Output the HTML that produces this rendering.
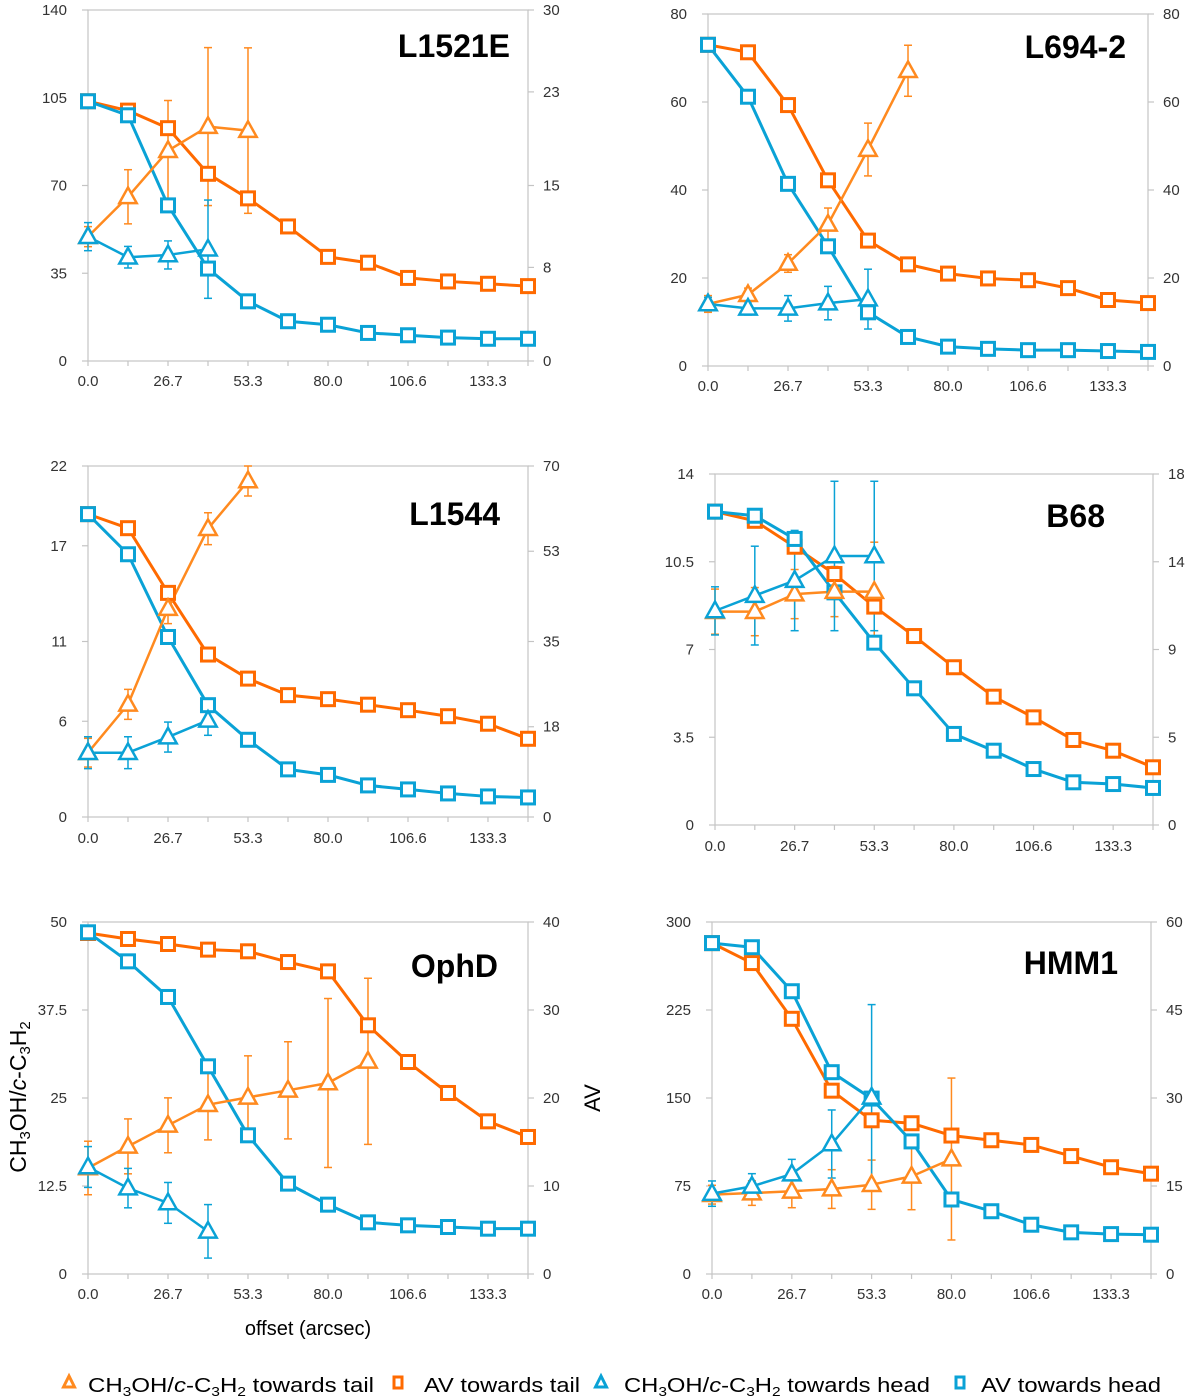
<!DOCTYPE html>
<html><head><meta charset="utf-8"><style>
html,body{margin:0;padding:0;background:#fff;}
svg{display:block;font-family:"Liberation Sans",sans-serif;}
</style></head><body>
<svg id="fig" width="1200" height="1400" viewBox="0 0 1200 1400"></svg>
<script>
// ---- data arrays (top level) ----
const offsets = [0, 13.33, 26.67, 40, 53.33, 66.67, 80, 93.33, 106.67, 120, 133.33, 146.67];
const xTickValues = [0, 26.67, 53.33, 80, 106.67, 133.33];
const xTickLabels = ["0.0", "26.7", "53.3", "80.0", "106.6", "133.3"];
const panelNames = ["L1521E", "L694-2", "L1544", "B68", "OphD", "HMM1"];

// L1521E
const l1521eLeftTicks = [0, 35, 70, 105, 140];
const l1521eRightTicks = [0, 8, 15, 23, 30];
const l1521eAvTail = [22.2, 21.4, 19.9, 16.0, 13.9, 11.5, 8.9, 8.4, 7.1, 6.8, 6.6, 6.4];
const l1521eAvHead = [22.2, 21.0, 13.3, 7.9, 5.1, 3.4, 3.1, 2.4, 2.2, 2.0, 1.9, 1.9];
const l1521eRatioTail = [49.6, 65.5, 83.9, 93.5, 91.9];
const l1521eRatioTailErr = [4, 10.8, 20, 31.5, 33];
const l1521eRatioHead = [49.6, 41.4, 42.3, 44.6];
const l1521eRatioHeadErr = [5.6, 4.3, 5.6, 19.6];

// L694-2
const l694LeftTicks = [0, 20, 40, 60, 80];
const l694RightTicks = [0, 20, 40, 60, 80];
const l694AvTail = [73.0, 71.3, 59.3, 42.2, 28.5, 23.1, 21.0, 19.9, 19.5, 17.7, 15.0, 14.3];
const l694AvHead = [73.0, 61.2, 41.4, 27.2, 12.2, 6.6, 4.4, 3.9, 3.6, 3.6, 3.4, 3.2];
const l694RatioTail = [14.1, 16.2, 23.3, 32.2, 49.2, 67.1];
const l694RatioTailErr = [1.9, 1.5, 2.0, 3.7, 6.0, 5.8];
const l694RatioHead = [14.1, 13.1, 13.1, 14.3, 15.2];
const l694RatioHeadErr = [1.5, 1.5, 2.9, 3.8, 6.8];

// L1544
const l1544LeftTicks = [0, 6, 11, 17, 22];
const l1544RightTicks = [0, 18, 35, 53, 70];
const l1544AvTail = [60.4, 57.6, 44.7, 32.4, 27.6, 24.3, 23.5, 22.4, 21.3, 20.1, 18.6, 15.6];
const l1544AvHead = [60.4, 52.4, 35.9, 22.3, 15.4, 9.5, 8.4, 6.3, 5.5, 4.7, 4.1, 3.9];
const l1544RatioTail = [4.03, 7.06, 13.06, 18.07, 21.06];
const l1544RatioTailErr = [0.9, 0.94, 0.94, 1.0, 0.94];
const l1544RatioHead = [4.03, 4.03, 5.01, 6.06];
const l1544RatioHeadErr = [1.0, 1.0, 0.94, 0.94];

// B68
const b68LeftTicks = [0, 3.5, 7, 10.5, 14];
const b68LeftLabels = ["0", "3.5", "7", "10.5", "14"];
const b68RightTicks = [0, 4.5, 9, 13.5, 18];
const b68RightLabels = ["0", "5", "9", "14", "18"];
const b68AvTail = [16.07, 15.6, 14.27, 12.87, 11.2, 9.69, 8.09, 6.58, 5.52, 4.36, 3.81, 2.96];
const b68AvHead = [16.07, 15.86, 14.67, 11.93, 9.35, 7.01, 4.67, 3.81, 2.87, 2.19, 2.10, 1.90];
const b68RatioTail = [8.51, 8.51, 9.21, 9.31, 9.31];
const b68RatioTailErr = [0.9, 0.96, 0.98, 1.0, 1.97];
const b68RatioHead = [8.54, 9.15, 9.75, 10.73, 10.73];
const b68RatioHeadErr = [0.96, 1.97, 2.0, 2.98, 2.98];

// OphD
const ophdLeftTicks = [0, 12.5, 25, 37.5, 50];
const ophdRightTicks = [0, 10, 20, 30, 40];
const ophdAvTail = [38.75, 38.07, 37.5, 36.86, 36.67, 35.45, 34.39, 28.26, 24.09, 20.57, 17.35, 15.57];
const ophdAvHead = [38.83, 35.53, 31.48, 23.6, 15.76, 10.27, 7.88, 5.87, 5.53, 5.34, 5.15, 5.15];
const ophdRatioTail = [15.06, 18.13, 21.12, 24.05, 25.09, 26.09, 27.13, 30.21];
const ophdRatioTailErr = [3.8, 3.9, 3.9, 5.0, 5.9, 6.9, 12.0, 11.8];
const ophdRatioHead = [15.2, 12.2, 10.1, 6.06];
const ophdRatioHeadErr = [2.9, 2.8, 2.9, 3.8];

// HMM1
const hmm1LeftTicks = [0, 75, 150, 225, 300];
const hmm1RightTicks = [0, 15, 30, 45, 60];
const hmm1AvTail = [56.4, 53.0, 43.5, 31.25, 26.2, 25.7, 23.6, 22.8, 22.0, 20.1, 18.2, 17.1];
const hmm1AvHead = [56.4, 55.7, 48.2, 34.4, 29.9, 22.6, 12.7, 10.7, 8.4, 7.1, 6.8, 6.7];
const hmm1RatioTail = [67.6, 69.0, 70.5, 72.4, 76.1, 83.2, 98.0];
const hmm1RatioTailErr = [8, 10.5, 14, 16.5, 21, 28.4, 69];
const hmm1RatioHead = [68.5, 74.7, 85.2, 110.8, 150.6];
const hmm1RatioHeadErr = [10.8, 10.8, 12.5, 29, 79];

const legendLabels = ["towards tail", "AV towards tail", "towards head", "AV towards head"];

// ---- rendering ----
const NS = "http://www.w3.org/2000/svg";
const svg = document.getElementById("fig");
const C_TAIL_R = "#ff8a1f", C_TAIL_AV = "#ff6a00", C_HEAD = "#0aa2d6";

function mk(tag, attrs, parent) {
  const e = document.createElementNS(NS, tag);
  for (const k in attrs) e.setAttribute(k, attrs[k]);
  (parent || svg).appendChild(e);
  return e;
}

const panels = [
  {name: panelNames[0], x0: 88, x1: 528, yT: 10, yB: 361, lMax: 140, rMax: 30, lt: l1521eLeftTicks, rt: l1521eRightTicks,
   avT: l1521eAvTail, avH: l1521eAvHead, rT: l1521eRatioTail, rTe: l1521eRatioTailErr, rH: l1521eRatioHead, rHe: l1521eRatioHeadErr, tx: 510, ty: 57, xl: 386},
  {name: panelNames[1], x0: 708, x1: 1148, yT: 14, yB: 366, lMax: 80, rMax: 80, lt: l694LeftTicks, rt: l694RightTicks,
   avT: l694AvTail, avH: l694AvHead, rT: l694RatioTail, rTe: l694RatioTailErr, rH: l694RatioHead, rHe: l694RatioHeadErr, tx: 1126, ty: 58, xl: 391},
  {name: panelNames[2], x0: 88, x1: 528, yT: 466, yB: 817, lMax: 22, rMax: 70, lt: l1544LeftTicks, rt: l1544RightTicks,
   avT: l1544AvTail, avH: l1544AvHead, rT: l1544RatioTail, rTe: l1544RatioTailErr, rH: l1544RatioHead, rHe: l1544RatioHeadErr, tx: 500, ty: 525, xl: 843},
  {name: panelNames[3], x0: 715, x1: 1153, yT: 474, yB: 825, lMax: 14, rMax: 18, lt: b68LeftTicks, rt: b68RightTicks, ltl: b68LeftLabels, rtl: b68RightLabels,
   avT: b68AvTail, avH: b68AvHead, rT: b68RatioTail, rTe: b68RatioTailErr, rH: b68RatioHead, rHe: b68RatioHeadErr, tx: 1105, ty: 527, xl: 851},
  {name: panelNames[4], x0: 88, x1: 528, yT: 922, yB: 1274, lMax: 50, rMax: 40, lt: ophdLeftTicks, rt: ophdRightTicks,
   avT: ophdAvTail, avH: ophdAvHead, rT: ophdRatioTail, rTe: ophdRatioTailErr, rH: ophdRatioHead, rHe: ophdRatioHeadErr, tx: 498, ty: 977, xl: 1299},
  {name: panelNames[5], x0: 712, x1: 1151, yT: 922, yB: 1274, lMax: 300, rMax: 60, lt: hmm1LeftTicks, rt: hmm1RightTicks,
   avT: hmm1AvTail, avH: hmm1AvHead, rT: hmm1RatioTail, rTe: hmm1RatioTailErr, rH: hmm1RatioHead, rHe: hmm1RatioHeadErr, tx: 1118, ty: 974, xl: 1299}
];

function triPts(cx, cy, s) {
  return `${cx},${cy - s * 0.62} ${cx - s * 0.58},${cy + s * 0.42} ${cx + s * 0.58},${cy + s * 0.42}`;
}

panels.forEach((p, pi) => {
  const g = mk("g", {});
  
  
  const xs = v => p.x0 + (v / 146.67) * (p.x1 - p.x0);
  const yl = v => p.yB - (v / p.lMax) * (p.yB - p.yT);
  const yr = v => p.yB - (v / p.rMax) * (p.yB - p.yT);

  // frame
  const fr = mk("rect", {x: p.x0, y: p.yT, width: p.x1 - p.x0, height: p.yB - p.yT, fill: "none", stroke: "#c4c4c4", "stroke-width": 1.2}, g);
  
  

  // x ticks
  offsets.forEach(o => mk("line", {x1: xs(o), x2: xs(o), y1: p.yB, y2: p.yB + 5, stroke: "#c4c4c4", "stroke-width": 1.2}, g));
  xTickValues.forEach((v, i) => {
    const t = mk("text", {x: xs(v), y: p.xl, "text-anchor": "middle", "font-size": 15, fill: "#333"}, g);
    t.textContent = xTickLabels[i];
    
    
  });
  // left ticks
  p.lt.forEach((v, i) => {
    mk("line", {x1: p.x0 - 6, x2: p.x0, y1: yl(v), y2: yl(v), stroke: "#c4c4c4", "stroke-width": 1.2}, g);
    const t = mk("text", {x: p.x0 - 21, y: yl(v) + 5, "text-anchor": "end", "font-size": 15, fill: "#333"}, g);
    t.textContent = p.ltl ? p.ltl[i] : String(v);
    
    
  });
  // right ticks
  p.rt.forEach((v, i) => {
    mk("line", {x1: p.x1, x2: p.x1 + 6, y1: yr(v), y2: yr(v), stroke: "#c4c4c4", "stroke-width": 1.2}, g);
    const t = mk("text", {x: p.x1 + 15, y: yr(v) + 5, "text-anchor": "start", "font-size": 15, fill: "#333"}, g);
    t.textContent = p.rtl ? p.rtl[i] : String(v);
    
    
  });

  // series
  function errorBars(vals, errs, color, name) {
    vals.forEach((v, i) => {
      const x = xs(offsets[i]), e = errs[i];
      const eg = mk("g", {stroke: color, "stroke-width": 1.5}, g);
      
      
      mk("line", {x1: x, x2: x, y1: yl(v + e), y2: yl(Math.max(0, v - e))}, eg);
      mk("line", {x1: x - 4, x2: x + 4, y1: yl(v + e), y2: yl(v + e)}, eg);
      mk("line", {x1: x - 4, x2: x + 4, y1: yl(Math.max(0, v - e)), y2: yl(Math.max(0, v - e))}, eg);
    });
  }
  function lineSeries(vals, yf, color, w, name) {
    const pts = vals.map((v, i) => xs(offsets[i]) + "," + yf(v)).join(" ");
    const l = mk("polyline", {points: pts, fill: "none", stroke: color, "stroke-width": w, "stroke-linejoin": "round"}, g);
    
    
  }
  function squares(vals, yf, color, name) {
    vals.forEach((v, i) => {
      const r = mk("rect", {x: xs(offsets[i]) - 6.5, y: yf(v) - 6.5, width: 13, height: 13, fill: "#fff", stroke: color, "stroke-width": 3}, g);
      
      
    });
  }
  function tris(vals, color, name) {
    vals.forEach((v, i) => {
      const t = mk("polygon", {points: triPts(xs(offsets[i]), yl(v), 15), fill: "#fff", stroke: color, "stroke-width": 2.5, "stroke-linejoin": "miter"}, g);
      
      
    });
  }

  errorBars(p.rT, p.rTe, C_TAIL_R, 'ratio-tail-error-bar');
  errorBars(p.rH, p.rHe, C_HEAD, 'ratio-head-error-bar');
  lineSeries(p.avT, yr, C_TAIL_AV, 3, 'av-tail-line');
  lineSeries(p.avH, yr, C_HEAD, 3, 'av-head-line');
  lineSeries(p.rT, yl, C_TAIL_R, 2.5, 'ratio-tail-line');
  lineSeries(p.rH, yl, C_HEAD, 2.5, 'ratio-head-line');
  squares(p.avT, yr, C_TAIL_AV, 'av-tail-marker');
  squares(p.avH, yr, C_HEAD, 'av-head-marker');
  tris(p.rT, C_TAIL_R, 'ratio-tail-marker');
  tris(p.rH, C_HEAD, 'ratio-head-marker');

  const ti = mk("text", {x: p.tx, y: p.ty, "text-anchor": "end", "font-size": 32, "font-weight": "bold", fill: "#000"}, g);
  ti.textContent = p.name;
  
  
});
</script>

<svg width="1200" height="1400" style="position:absolute;left:0;top:0;pointer-events:none">
  <g font-family="Liberation Sans, sans-serif" fill="#000">
    <text transform="translate(26,1097) rotate(-90)" text-anchor="middle" font-size="23">CH<tspan font-size="15" dy="4">3</tspan><tspan dy="-4">OH/</tspan><tspan font-style="italic">c</tspan>-C<tspan font-size="15" dy="4">3</tspan><tspan dy="-4">H</tspan><tspan font-size="15" dy="4">2</tspan></text>
    <text transform="translate(600,1098) rotate(-90)" text-anchor="middle" font-size="22">AV</text>
    <text x="308" y="1335" text-anchor="middle" font-size="20">offset (arcsec)</text>
  </g>
  <g font-family="Liberation Sans, sans-serif" font-size="20" fill="#000">
    <g>
      <polygon points="69,1376 63.5,1387 74.5,1387" fill="#fff" stroke="#ff8a1f" stroke-width="3"/>
      <text x="88" y="1392" textLength="286" lengthAdjust="spacingAndGlyphs">CH<tspan font-size="13" dy="4">3</tspan><tspan dy="-4">OH/</tspan><tspan font-style="italic">c</tspan>-C<tspan font-size="13" dy="4">3</tspan><tspan dy="-4">H</tspan><tspan font-size="13" dy="4">2</tspan><tspan dy="-4"> towards tail</tspan></text>
    </g>
    <g>
      <rect x="394" y="1377" width="8" height="11" fill="#fff" stroke="#ff6a00" stroke-width="3"/>
      <text x="424" y="1392" textLength="156" lengthAdjust="spacingAndGlyphs">AV towards tail</text>
    </g>
    <g>
      <polygon points="601,1376 595.5,1387 606.5,1387" fill="#fff" stroke="#0aa2d6" stroke-width="3"/>
      <text x="624" y="1392" textLength="306" lengthAdjust="spacingAndGlyphs">CH<tspan font-size="13" dy="4">3</tspan><tspan dy="-4">OH/</tspan><tspan font-style="italic">c</tspan>-C<tspan font-size="13" dy="4">3</tspan><tspan dy="-4">H</tspan><tspan font-size="13" dy="4">2</tspan><tspan dy="-4"> towards head</tspan></text>
    </g>
    <g>
      <rect x="956" y="1377" width="8" height="11" fill="#fff" stroke="#0aa2d6" stroke-width="3"/>
      <text x="981" y="1392" textLength="180" lengthAdjust="spacingAndGlyphs">AV towards head</text>
    </g>
  </g>
</svg>
</body></html>
